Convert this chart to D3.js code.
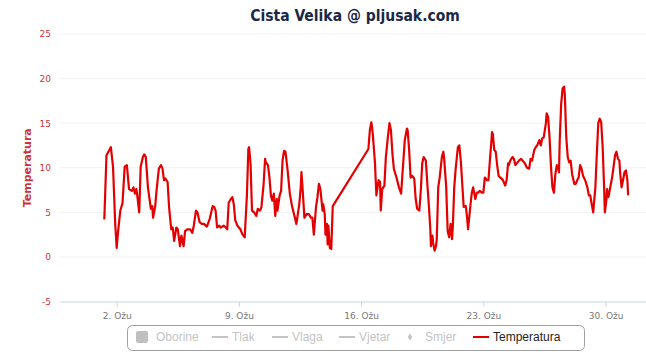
<!DOCTYPE html>
<html>
<head>
<meta charset="utf-8">
<script src="https://cdn.jsdelivr.net/npm/d3@7"></script>
<style>
  body { margin: 0; background: #fff; }
  svg { display: block; }
</style>
</head>
<body>
<script>
// hours after 1 Mar 00:00
var hours = [7, 10, 14, 16, 19, 22, 24, 26, 29, 32, 35, 38, 41, 45, 47, 49, 51, 52, 55, 57,
  60, 62, 64, 67, 71, 73, 74, 77, 79, 82, 85, 87, 89, 91, 94, 96, 99, 101, 103, 106,
  108, 111, 113, 116, 118, 121, 125, 128, 130, 133, 135, 138, 141, 144, 148, 152, 156, 158, 160, 162,
  165, 167, 171, 174, 176, 178, 181, 183, 185, 187, 190, 194, 197, 200, 203, 205, 206, 208, 210, 213,
  216, 218, 221, 223, 226, 228, 229, 232, 234, 236, 238, 240, 242, 244, 245, 248, 250, 252, 254, 256,
  259, 262, 265, 269, 271, 275, 277, 278, 280, 282, 285, 288, 291, 293, 295, 298, 300, 302, 304, 307,
  308, 310, 311, 313, 314, 315, 317, 319, 321,
  370, 372, 374, 375, 376, 379, 381, 384, 386, 387, 389, 392, 394, 397, 399, 401, 403, 405, 409, 412,
  415, 417, 420, 423, 424, 426, 428, 430, 433, 435, 437, 440, 442, 444, 446, 449, 451, 453, 455, 456,
  458, 459, 461, 463, 464, 466, 468, 471, 473, 474, 477, 478, 479, 481, 483, 485, 486, 488, 490, 493,
  495, 497, 499, 501, 504, 506, 507, 510, 512, 514, 517, 519, 521, 523, 526, 528, 530, 533, 535, 537,
  540, 541, 543, 545, 547, 549, 551, 553, 555, 558, 560, 562, 563, 565, 568, 570, 572, 575, 577, 580,
  582, 585, 588, 591, 593, 595, 598, 600, 602, 605, 607, 609, 611, 614, 615, 617, 619, 621, 623, 625,
  627, 629, 631, 632, 633, 635, 637, 639, 640, 642, 644, 646, 648, 650, 653, 655, 657, 659, 661, 663,
  665, 668, 671, 673, 675, 677, 679, 682, 684, 686, 688, 690, 692, 694, 695, 697, 698, 700, 702, 705,
  707, 709, 711, 713, 715, 716, 718, 720, 722, 724, 726, 727];

var temps = [4.2, 11.4, 12.0, 12.3, 10.1, 3.7, 1.0, 2.9, 5.2, 6.0, 10.1, 10.3, 7.6, 7.4, 7.8, 7.1, 7.6, 7.1, 5.0, 10.1,
  11.2, 11.5, 11.2, 7.8, 5.4, 5.7, 4.4, 5.7, 7.6, 9.9, 10.3, 9.9, 8.6, 8.8, 8.4, 5.6, 3.1, 3.3, 1.8, 3.3,
  3.1, 1.2, 2.4, 1.2, 2.9, 3.1, 3.1, 2.7, 3.5, 5.2, 5.0, 3.9, 3.7, 3.7, 3.4, 4.3, 5.7, 5.6, 5.2, 3.3,
  3.5, 3.3, 3.5, 3.3, 3.1, 6.1, 6.5, 6.7, 5.9, 4.1, 3.5, 3.1, 2.5, 2.2, 6.9, 12.1, 12.3, 10.5, 5.2, 5.0,
  4.6, 5.4, 5.2, 5.6, 8.2, 11.0, 10.6, 10.3, 8.9, 6.9, 6.3, 7.1, 4.6, 6.5, 5.2, 6.9, 7.4, 10.8, 11.9, 11.8,
  9.7, 7.1, 5.7, 4.4, 3.7, 5.9, 7.8, 9.5, 7.1, 4.4, 4.8, 4.8, 4.4, 4.4, 2.5, 5.6, 6.7, 8.2, 7.6, 5.2,
  5.9, 4.8, 2.5, 3.7, 1.4, 3.5, 1.0, 0.9, 5.7,
  12.1, 14.2, 15.1, 14.6, 13.8, 10.6, 6.9, 8.6, 8.4, 5.2, 7.6, 8.0, 11.2, 13.6, 15.0, 14.2, 11.6, 9.9, 8.8, 7.8,
  7.1, 9.5, 13.1, 14.4, 14.2, 12.0, 8.9, 9.1, 8.8, 6.5, 5.4, 5.2, 7.4, 10.5, 11.2, 10.8, 8.2, 5.9, 3.3, 1.2,
  2.4, 1.6, 0.7, 1.2, 2.0, 7.8, 8.9, 11.2, 11.8, 11.2, 7.8, 5.2, 2.9, 2.2, 3.7, 2.0, 3.3, 7.8, 9.9, 12.3,
  12.5, 10.8, 8.2, 5.6, 5.7, 4.1, 3.1, 5.6, 7.1, 7.8, 6.5, 7.2, 7.2, 7.4, 7.2, 7.2, 8.9, 8.6, 8.6, 10.8,
  14.0, 13.8, 12.0, 11.8, 10.3, 9.1, 8.9, 8.8, 8.6, 8.0, 8.6, 10.5, 10.3, 10.8, 11.2, 11.0, 10.3, 10.6, 10.8, 11.0,
  10.8, 10.5, 10.0, 9.9, 11.0, 10.8, 12.0, 12.3, 12.5, 13.1, 12.5, 13.3, 13.4, 15.0, 16.1, 15.7, 13.4, 10.1, 7.8, 7.2,
  9.3, 10.3, 9.9, 9.5, 13.1, 17.2, 18.9, 19.1, 18.2, 13.4, 11.2, 10.6, 10.8, 9.3, 8.2, 8.2, 8.6, 8.9, 10.3, 9.9,
  9.1, 8.6, 7.8, 6.9, 6.9, 5.9, 5.0, 7.8, 11.6, 15.0, 15.5, 15.1, 12.3, 7.8, 5.0, 6.3, 7.6, 6.7, 7.6, 8.9,
  10.1, 11.4, 11.8, 11.0, 10.8, 9.5, 7.8, 8.6, 9.5, 9.7, 8.6, 6.9];

var yTicks = [-5, 0, 5, 10, 15, 20, 25];
var yTickLabels = ["-5", "0", "5", "10", "15", "20", "25"];
var xTickDays = [2, 9, 16, 23, 30];
var xTickLabels = ["2. Ožu", "9. Ožu", "16. Ožu", "23. Ožu", "30. Ožu"];
var legendNames = ["Oborine", "Tlak", "Vlaga", "Vjetar", "Smjer", "Temperatura"];
var legendSymbols = ["square", "line", "line", "line", "diamond", "line"];
var legendActive = [false, false, false, false, false, true];

var width = 646, height = 363;
var plot = {left: 60, right: 646, top: 34, bottom: 301.5};
var lineColor = "#e30000";
var axisRed = "#cc3535";

function toDate(h) { return new Date(2015, 2, 1, 0, 0 + h * 60); }

var data = hours.map(function(h, i) { return {t: toDate(h), v: temps[i]}; });

var svg = d3.select("body").append("svg")
  .attr("width", width)
  .attr("height", height);

// x scale: 1 Mar sits at 99.2px, 17.46px per day
var x = d3.scaleTime()
  .domain([toDate(-53.9), toDate(-53.9 + (plot.right - plot.left) / 17.46 * 24)])
  .range([plot.left, plot.right]);

var y = d3.scaleLinear()
  .domain([-5, 25])
  .range([plot.bottom, plot.top]);

// gridlines
svg.append("g").selectAll("line").data(yTicks).enter().append("line")
  .attr("x1", plot.left).attr("x2", plot.right)
  .attr("y1", function(d) { return y(d); })
  .attr("y2", function(d) { return y(d); })
  .attr("stroke", function(d) { return d === -5 ? "none" : "#f1f1f1"; })
  .attr("stroke-width", 1);

// y axis labels
var yAxis = d3.axisLeft(y).tickValues(yTicks)
  .tickFormat(function(d, i) { return yTickLabels[i]; })
  .tickSize(0).tickPadding(9);
var gy = svg.append("g").attr("transform", "translate(" + plot.left + ",0)").call(yAxis);
gy.select(".domain").remove();
gy.selectAll("text")
  .attr("fill", axisRed)
  .style("font-family", "DejaVu Sans, sans-serif")
  .style("font-size", "9px");

svg.append("text")
  .attr("transform", "translate(27," + ((plot.top + plot.bottom) / 2) + ") rotate(-90)")
  .attr("text-anchor", "middle")
  .attr("dy", "0.35em")
  .attr("fill", axisRed)
  .style("font-family", "DejaVu Sans, sans-serif")
  .style("font-weight", "bold")
  .style("font-size", "11px")
  .text("Temperatura");

// x axis
var xAxis = d3.axisBottom(x)
  .tickValues(xTickDays.map(function(d) { return new Date(2015, 2, d); }))
  .tickFormat(function(d, i) { return xTickLabels[i]; })
  .tickSize(5)
  .tickPadding(6);
var gx = svg.append("g").attr("transform", "translate(0," + plot.bottom + ")").call(xAxis);
gx.select(".domain").attr("stroke", "#c8d4e2").attr("d", "M" + plot.left + ",0.5H" + plot.right);
gx.selectAll(".tick line").attr("stroke", "#c8d4e2");
gx.selectAll("text")
  .attr("fill", "#777")
  .style("font-family", "DejaVu Sans, sans-serif")
  .style("font-size", "9px");

// temperature line
var line = d3.line()
  .x(function(d) { return x(d.t); })
  .y(function(d) { return y(d.v); });

svg.append("path")
  .datum(data)
  .attr("d", line)
  .attr("fill", "none")
  .attr("stroke", lineColor)
  .attr("stroke-width", 2.2)
  .attr("stroke-linejoin", "round");

// title
svg.append("text")
  .attr("x", 355)
  .attr("y", 21)
  .attr("text-anchor", "middle")
  .attr("fill", "#1b2748")
  .style("font-family", "DejaVu Sans Condensed, DejaVu Sans, sans-serif")
  .style("font-stretch", "condensed")
  .style("font-weight", "bold")
  .style("font-size", "15.5px")
  .text("Cista Velika @ pljusak.com");

// legend
var legend = svg.append("g");
legend.append("rect")
  .attr("x", 127.5).attr("y", 325.5)
  .attr("width", 457).attr("height", 25)
  .attr("rx", 5)
  .attr("fill", "#fff")
  .attr("stroke", "#a0a0a0");

var itemX = [136, 212, 272, 339, 402, 473];
var items = legend.selectAll("g.item").data(legendNames).enter().append("g")
  .attr("class", "item")
  .attr("transform", function(d, i) { return "translate(" + itemX[i] + ",337)"; });

items.each(function(d, i) {
  var g = d3.select(this);
  var col = legendActive[i] ? lineColor : "#c4c4c4";
  if (legendSymbols[i] === "square") {
    g.append("rect").attr("x", 0).attr("y", -6).attr("width", 12).attr("height", 12)
      .attr("rx", 2).attr("fill", "#c0c0c0");
  } else if (legendSymbols[i] === "line") {
    g.append("line").attr("x1", 0).attr("x2", 16).attr("y1", 0).attr("y2", 0)
      .attr("stroke", col).attr("stroke-width", 2);
  } else {
    g.append("path").attr("d", d3.symbol().type(d3.symbolDiamond).size(16)())
      .attr("transform", "translate(8,0)").attr("fill", "#c4c4c4");
  }
  g.append("text")
    .attr("x", legendSymbols[i] === "diamond" ? 23 : 20)
    .attr("dy", "0.35em")
    .attr("fill", legendActive[i] ? "#222" : "#c4c4c4")
    .style("font-family", "Liberation Sans, Arial, sans-serif")
    .style("font-size", "12px")
    .text(d);
});
</script>
</body>
</html>
